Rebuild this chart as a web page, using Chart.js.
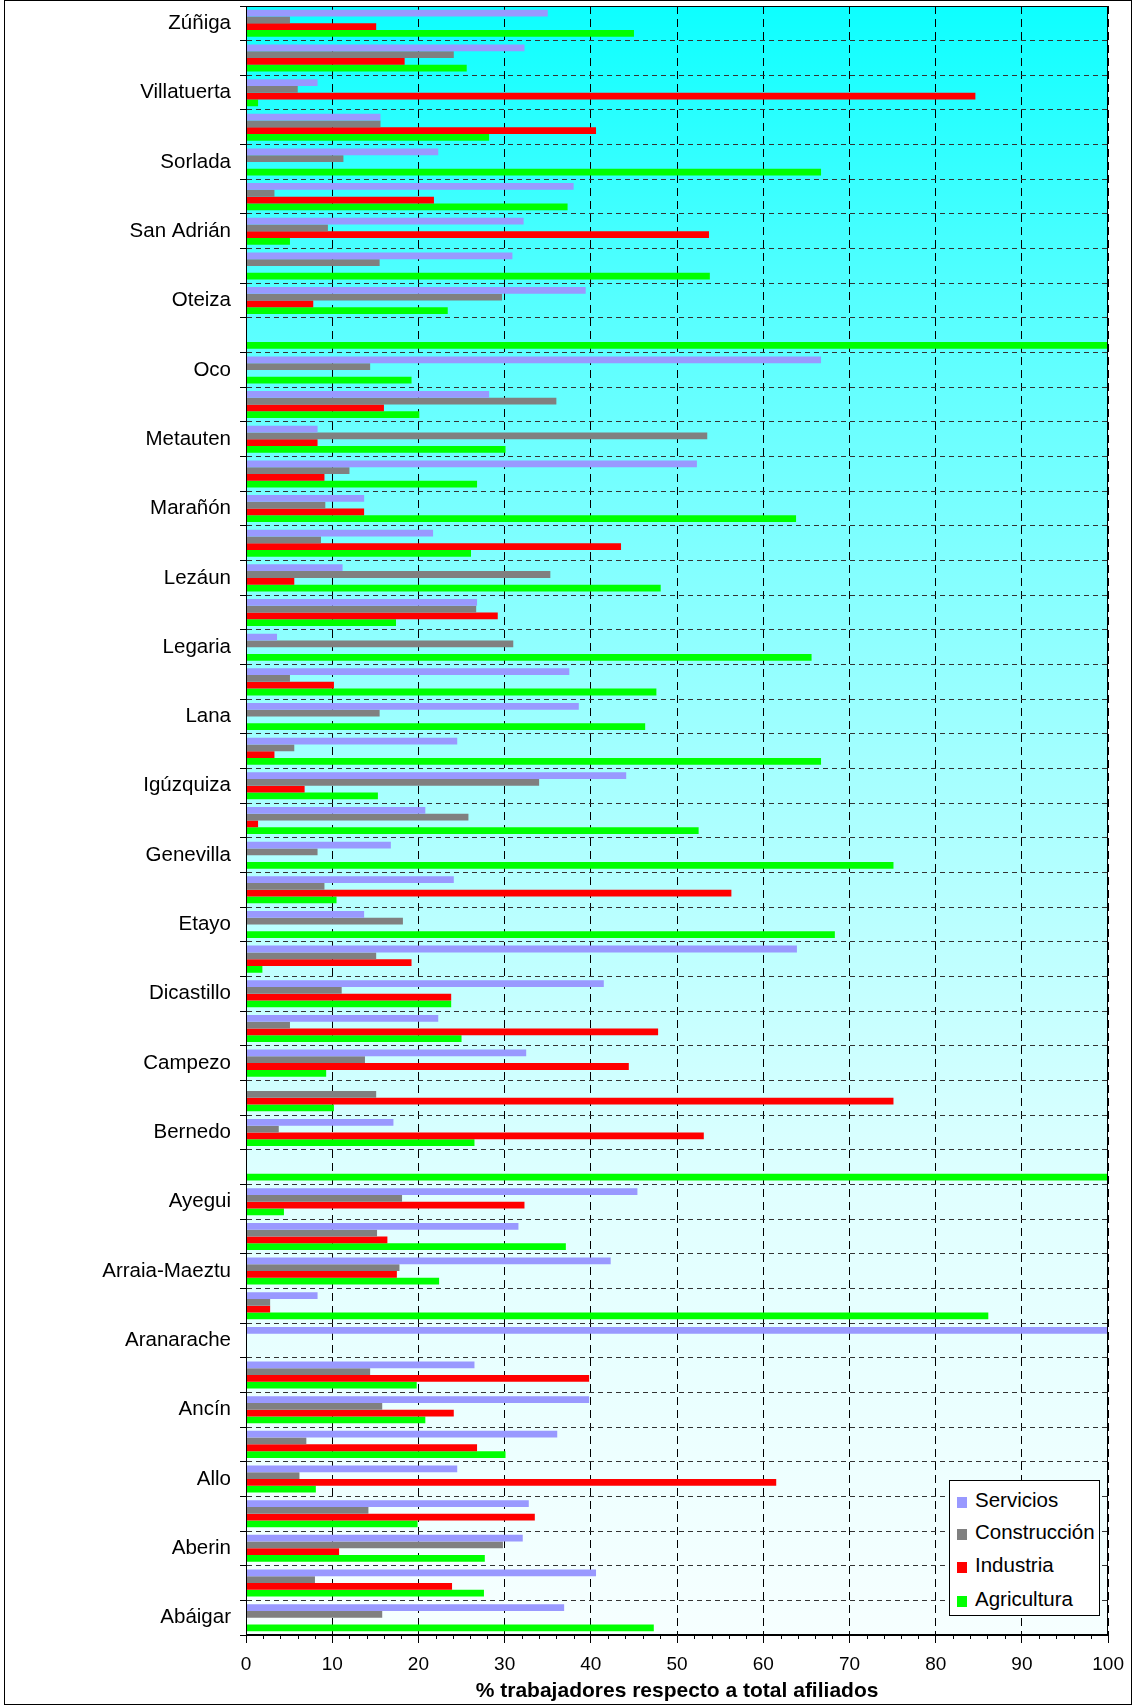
<!DOCTYPE html>
<html lang="es">
<head>
<meta charset="utf-8">
<title>Afiliados por sector</title>
<script src="https://cdn.jsdelivr.net/npm/chart.js@4.4.1/dist/chart.umd.min.js"></script>
<style>
  html, body { margin: 0; padding: 0; background: #fff; }
  #wrap { position: relative; width: 1134px; height: 1706px; }
  #chart { display: block; }
  #legend {
    position: absolute; left: 949px; top: 1480px; width: 151px; height: 136px;
    box-sizing: border-box; border: 1px solid #000; background: #fff;
    font: 20.5px "Liberation Sans", Arial, sans-serif; color: #000;
  }
  #legend .item { position: absolute; left: 7px; height: 24px; line-height: 24px; white-space: nowrap; }
  #legend .item i { display: inline-block; width: 10px; height: 11px; margin-right: 8px; vertical-align: -1px; }
</style>
</head>
<body>
<div id="wrap">
  <canvas id="chart" width="1134" height="1706"></canvas>
  <div id="legend"></div>
</div>
<script>
// municipios, de arriba abajo (solo se rotula uno de cada dos)
const categories = [
  'Zúñiga', 'Yerri', 'Villatuerta', 'Villamayor de Monjardín', 'Sorlada', 'Sansol',
  'San Adrián', 'Piedramillera', 'Oteiza', 'Olejua', 'Oco', 'Murieta', 'Metauten',
  'Mendaza', 'Marañón', 'Luquin', 'Lezáun', 'Lerín', 'Legaria', 'Larraona', 'Lana',
  'Lagrán', 'Igúzquiza', 'Guesálaz', 'Genevilla', 'Eulate', 'Etayo', 'Espronceda',
  'Dicastillo', 'Desojo', 'Campezo', 'Cirauqui', 'Bernedo', 'Barbarin', 'Ayegui',
  'Arróniz', 'Arraia-Maeztu', 'Aras', 'Aranarache', 'Andosilla', 'Ancín',
  'Améscoa Baja', 'Allo', 'Allín', 'Aberin', 'Abárzuza', 'Abáigar'
];

const servicios = [
  35.0, 32.3, 8.3, 15.6, 22.3, 38.0, 32.2, 30.9, 39.4, 0, 66.7, 28.2, 8.3, 52.3,
  13.7, 21.7, 11.2, 26.8, 3.6, 37.5, 38.6, 24.5, 44.1, 20.8, 16.8, 24.1, 13.7, 63.9,
  41.5, 22.3, 32.5, 0, 17.1, 0, 45.4, 31.6, 42.3, 8.3, 100, 26.5, 39.8, 36.1, 24.5,
  32.8, 32.1, 40.6, 36.9
];
const construccion = [
  5.1, 24.1, 6.0, 15.6, 11.3, 3.3, 9.5, 15.5, 29.7, 0, 14.4, 36.0, 53.5, 12.0,
  9.2, 8.7, 35.3, 26.7, 31.0, 5.1, 15.5, 5.6, 34.0, 25.8, 8.3, 9.1, 18.2, 15.1,
  11.1, 5.1, 13.8, 15.1, 3.8, 0, 18.1, 15.2, 17.8, 2.8, 0, 14.4, 15.8, 7.0, 6.2,
  14.2, 29.8, 8.0, 15.8
];
const industria = [
  15.1, 18.4, 84.6, 40.6, 0, 21.8, 53.7, 0, 7.8, 0, 0, 16.0, 8.3, 9.1,
  13.7, 43.5, 5.6, 29.2, 0, 10.2, 0, 3.3, 6.8, 1.4, 0, 56.3, 0, 19.2,
  23.8, 47.8, 44.4, 75.1, 53.1, 0, 32.3, 16.4, 17.5, 2.8, 0, 39.8, 24.1, 26.8, 61.5,
  33.5, 10.8, 23.9, 0
];
const agricultura = [
  45.0, 25.6, 1.4, 28.2, 66.7, 37.3, 5.1, 53.8, 23.4, 100, 19.2, 20.1, 30.1, 26.8,
  63.8, 26.1, 48.1, 17.4, 65.6, 47.6, 46.3, 66.7, 15.3, 52.5, 75.1, 10.5, 68.3, 1.9,
  23.8, 25.0, 9.3, 10.2, 26.5, 100, 4.4, 37.1, 22.4, 86.1, 0, 19.8, 20.8, 30.1, 8.1,
  19.9, 27.7, 27.6, 47.3
];

const seriesNames = ['Servicios', 'Construcción', 'Industria', 'Agricultura'];
const seriesColors = ['#9999FF', '#808080', '#FF0000', '#00FF00'];
const xTicks = [0, 10, 20, 30, 40, 50, 60, 70, 80, 90, 100];
const axisTitle = '% trabajadores respecto a total afiliados';

const FONT = '"Liberation Sans", Arial, sans-serif';

// fondo degradado, marco exterior, borde del área y marcas menores del eje X
const plotDecor = {
  id: 'plotDecor',
  beforeDraw(chart) {
    const { ctx, chartArea: a } = chart;
    const g = ctx.createLinearGradient(0, a.top, 0, a.bottom);
    g.addColorStop(0, '#0DFFFF');
    g.addColorStop(0.18, '#55FFFF');
    g.addColorStop(0.47, '#A5FFFF');
    g.addColorStop(0.73, '#E0FFFF');
    g.addColorStop(1, '#F6FFFF');
    ctx.save();
    ctx.fillStyle = g;
    ctx.fillRect(a.left, a.top, a.right - a.left, a.bottom - a.top);
    ctx.strokeStyle = '#000';
    ctx.lineWidth = 1;
    ctx.strokeRect(4.5, 0.5, 1127, 1704);
    ctx.restore();
  },
  afterDraw(chart) {
    const { ctx, chartArea: a, scales: { x } } = chart;
    ctx.save();
    ctx.strokeStyle = '#000';
    ctx.lineWidth = 1;
    ctx.strokeRect(Math.round(a.left) + 0.5, Math.round(a.top) + 0.5,
      Math.round(a.right - a.left) - 1, Math.round(a.bottom - a.top) - 1);
    ctx.beginPath();
    for (let v = 2; v < 100; v += 2) {
      if (v % 10 === 0) continue;
      const px = Math.round(x.getPixelForValue(v)) + 0.5;
      ctx.moveTo(px, a.bottom);
      ctx.lineTo(px, a.bottom + 4);
    }
    ctx.stroke();
    ctx.restore();
  }
};

const seriesData = [servicios, construccion, industria, agricultura];

new Chart(document.getElementById('chart'), {
  type: 'bar',
  data: {
    labels: categories,
    datasets: seriesNames.map((name, i) => ({
      label: name,
      data: seriesData[i],
      backgroundColor: seriesColors[i],
      borderWidth: 0,
      barPercentage: 1,
      categoryPercentage: 0.78
    }))
  },
  options: {
    responsive: false,
    animation: false,
    indexAxis: 'y',
    layout: { padding: { left: 0, right: 21, top: 6, bottom: 2 } },
    plugins: { legend: { display: false }, tooltip: { enabled: false } },
    scales: {
      x: {
        min: 0,
        max: 100,
        afterBuildTicks: s => { s.ticks = xTicks.map(v => ({ value: v })); },
        afterFit: s => { s.height = 69; },
        grid: { color: '#000', lineWidth: 1, tickLength: 8, tickColor: '#000' },
        border: { display: true, color: '#000', dash: [8, 5] },
        ticks: { color: '#000', padding: 10, maxRotation: 0, font: { family: FONT, size: 19 } },
        title: {
          display: true,
          text: axisTitle,
          color: '#000',
          font: { family: FONT, size: 21, weight: 'bold' },
          padding: { top: 0, bottom: 0 }
        }
      },
      y: {
        // ancho fijo y sin el margen extra que añade la etiqueta superior
        afterFit: s => { s.width = 246; s.paddingTop = 0; s.paddingBottom = 0; },
        grid: { color: '#333', lineWidth: 1, tickLength: 6, tickColor: '#000', offset: true },
        border: { display: true, color: '#000', dash: [5, 4] },
        ticks: {
          autoSkip: false,
          color: '#000',
          padding: 9,
          font: { family: FONT, size: 20.5 },
          callback: function (v, i) { return i % 2 === 0 ? this.getLabelForValue(v) : ''; }
        }
      }
    }
  },
  plugins: [plotDecor]
});

// leyenda en recuadro dentro del área, abajo a la derecha
const legendTops = [7, 39, 72, 106];
document.getElementById('legend').innerHTML = seriesNames.map((name, i) =>
  `<div class="item" style="top:${legendTops[i]}px"><i style="background:${seriesColors[i]}"></i>${name}</div>`
).join('');
</script>
</body>
</html>
